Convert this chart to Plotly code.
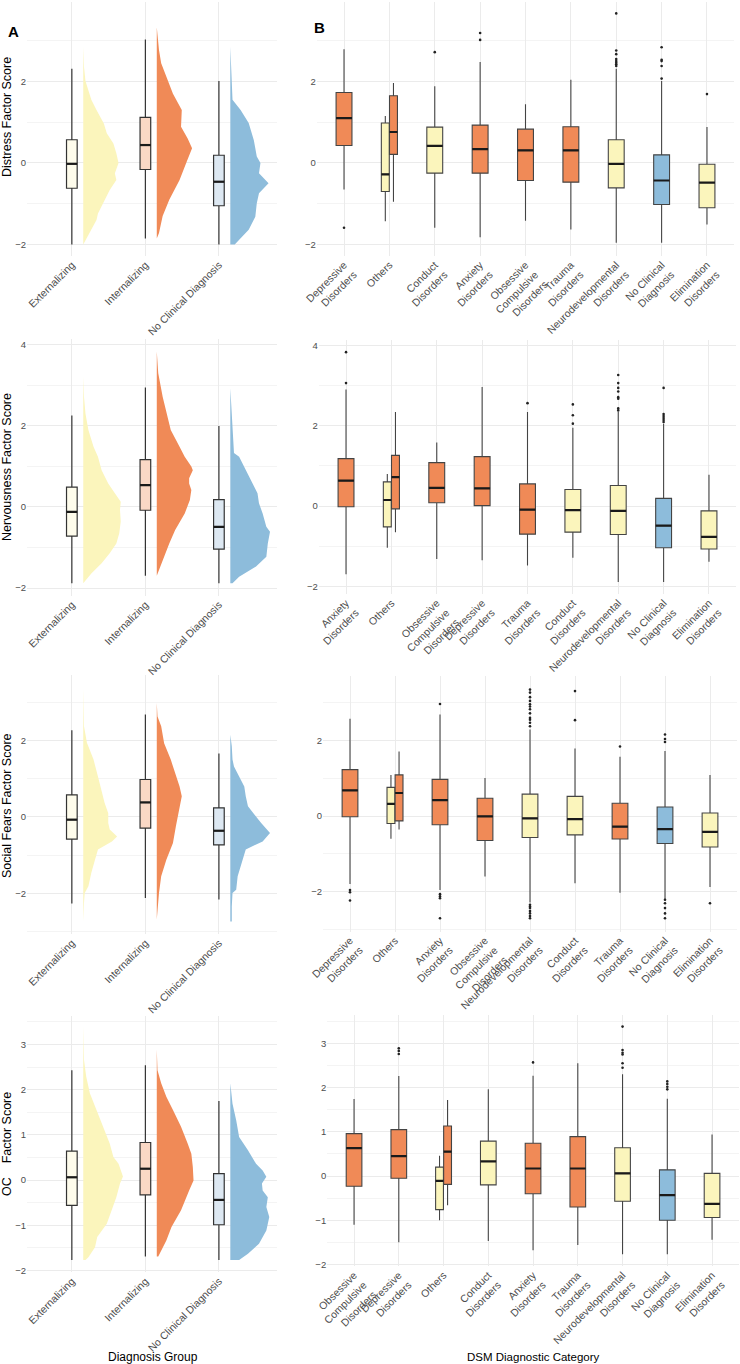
import plotly.graph_objects as go

# ---------------- DATA ----------------
groups = ["Externalizing", "Internalizing", "No Clinical Diagnosis"]

# box stats per group: (lower whisker, q1, median, q3, upper whisker)
distress_group_box = [(-2.00, -0.62, -0.02, 0.57, 2.31), (-1.85, -0.16, 0.44, 1.12, 3.03), (-2.00, -1.05, -0.46, 0.19, 2.01)]
nervous_group_box = [(-1.88, -0.72, -0.12, 0.49, 2.26), (-1.70, -0.08, 0.54, 1.17, 2.95), (-1.88, -1.04, -0.49, 0.18, 2.00)]
social_group_box = [(-2.26, -0.58, -0.07, 0.58, 2.27), (-2.12, -0.29, 0.38, 0.98, 2.68), (-2.16, -0.73, -0.36, 0.24, 1.66)]
oc_group_box = [(-1.77, -0.56, 0.06, 0.64, 2.43), (-1.69, -0.33, 0.25, 0.83, 2.54), (-1.77, -0.99, -0.44, 0.14, 1.75)]

# half-violin density profiles (score level, relative width)
distress_ext_y = [2.85, 2.36, 2.01, 1.55, 1.30, 0.97, 0.73, 0.48, 0.24, 0.0, -0.25, -0.42, -0.66, -0.99, -1.24, -1.40, -1.64, -1.89, -2.0]
distress_ext_w = [0, 0.01, 0.03, 0.11, 0.18, 0.28, 0.32, 0.41, 0.45, 0.48, 0.43, 0.45, 0.36, 0.27, 0.20, 0.18, 0.11, 0.04, 0.01]
distress_int_y = [3.33, 2.77, 2.45, 2.0, 1.7, 1.3, 1.05, 0.89, 0.6, 0.36, 0.0, -0.42, -0.9, -1.3, -1.72, -1.85]
distress_int_w = [0, 0.03, 0.06, 0.15, 0.22, 0.34, 0.34, 0.33, 0.42, 0.48, 0.40, 0.31, 0.17, 0.08, 0.03, 0.0]
distress_ncd_y = [2.85, 2.36, 2.01, 1.55, 1.30, 0.98, 0.56, 0.16, 0.0, -0.25, -0.50, -0.74, -0.99, -1.32, -1.64, -1.89, -2.0]
distress_ncd_w = [0, 0.01, 0.02, 0.03, 0.14, 0.25, 0.32, 0.36, 0.41, 0.39, 0.52, 0.39, 0.36, 0.34, 0.25, 0.11, 0.06]

nervous_ext_y = [3.22, 2.72, 2.31, 1.90, 1.49, 1.24, 0.91, 0.58, 0.34, 0.13, -0.07, -0.36, -0.65, -0.90, -1.14, -1.39, -1.64, -1.88]
nervous_ext_w = [0, 0.01, 0.03, 0.07, 0.14, 0.20, 0.25, 0.34, 0.43, 0.51, 0.50, 0.51, 0.49, 0.45, 0.36, 0.25, 0.11, 0.0]
nervous_int_y = [3.84, 3.30, 2.72, 2.31, 1.90, 1.49, 1.24, 1.00, 0.91, 0.71, 0.58, 0.42, 0.17, -0.16, -0.57, -0.90, -1.31, -1.70]
nervous_int_w = [0, 0.02, 0.08, 0.13, 0.19, 0.31, 0.38, 0.47, 0.49, 0.44, 0.44, 0.47, 0.45, 0.38, 0.25, 0.17, 0.08, 0.0]
nervous_ncd_y = [2.93, 2.31, 1.90, 1.33, 1.24, 0.91, 0.58, 0.34, 0.09, -0.16, -0.49, -0.61, -0.90, -1.23, -1.47, -1.72, -1.88]
nervous_ncd_w = [0, 0.02, 0.03, 0.05, 0.12, 0.21, 0.30, 0.37, 0.39, 0.44, 0.49, 0.54, 0.51, 0.49, 0.35, 0.12, 0.03]

social_ext_y = [3.35, 2.37, 1.94, 1.50, 1.06, 0.63, 0.37, 0.10, -0.16, -0.33, -0.51, -0.64, -0.85, -1.12, -1.46, -1.81, -1.99, -2.25, -2.73]
social_ext_w = [0, 0.01, 0.05, 0.14, 0.20, 0.25, 0.29, 0.34, 0.34, 0.36, 0.46, 0.39, 0.20, 0.16, 0.11, 0.07, 0.02, 0.01, 0.0]
social_int_y = [2.98, 2.63, 2.37, 1.93, 1.50, 1.06, 0.80, 0.54, 0.28, 0.02, -0.24, -0.68, -1.12, -1.55, -1.99, -2.68]
social_int_w = [0, 0.01, 0.06, 0.10, 0.19, 0.26, 0.31, 0.34, 0.31, 0.28, 0.26, 0.22, 0.13, 0.06, 0.03, 0.0]
social_ncd_y = [2.15, 1.85, 1.50, 1.32, 1.06, 0.80, 0.54, 0.28, 0.06, -0.16, -0.42, -0.64, -0.85, -1.20, -1.55, -1.90, -1.99, -2.34, -2.73]
social_ncd_w = [0, 0.02, 0.03, 0.05, 0.12, 0.19, 0.21, 0.24, 0.33, 0.42, 0.54, 0.44, 0.21, 0.15, 0.10, 0.08, 0.03, 0.02, 0.02]

oc_ext_y = [3.40, 2.66, 2.29, 1.92, 1.55, 1.18, 0.81, 0.51, 0.36, 0.08, -0.08, -0.38, -0.67, -0.97, -1.26, -1.49, -1.71, -1.77]
oc_ext_w = [0, 0.01, 0.04, 0.09, 0.18, 0.27, 0.36, 0.41, 0.48, 0.54, 0.50, 0.45, 0.39, 0.32, 0.19, 0.16, 0.07, 0.03]
oc_int_y = [2.89, 2.43, 2.14, 1.84, 1.55, 1.18, 0.81, 0.58, 0.29, -0.01, -0.23, -0.67, -1.04, -1.34, -1.69]
oc_int_w = [0, 0.01, 0.06, 0.13, 0.22, 0.33, 0.42, 0.47, 0.49, 0.50, 0.44, 0.33, 0.20, 0.13, 0.02]
oc_ncd_y = [2.14, 1.69, 1.32, 0.95, 0.66, 0.36, 0.21, 0.07, -0.08, -0.23, -0.38, -0.60, -0.82, -1.12, -1.41, -1.63, -1.77]
oc_ncd_w = [0, 0.03, 0.08, 0.12, 0.24, 0.35, 0.44, 0.49, 0.43, 0.44, 0.51, 0.49, 0.53, 0.49, 0.39, 0.24, 0.12]

# DSM categories: order per panel, boxes (category, group, lower, q1, median, q3, upper), outliers
distress_dsm_order = ["Depressive Disorders", "Others", "Conduct Disorders", "Anxiety Disorders",
                      "Obsessive Compulsive Disorders", "Trauma Disorders", "Neurodevelopmental Disorders",
                      "No Clinical Diagnosis", "Elimination Disorders"]
distress_dsm_boxes = [
    ("Depressive Disorders", "Internalizing", -0.65, 0.43, 1.10, 1.73, 2.79),
    ("Others", "Externalizing", -1.43, -0.70, -0.28, 0.98, 1.15),
    ("Others", "Internalizing", -0.95, 0.21, 0.76, 1.65, 1.96),
    ("Conduct Disorders", "Externalizing", -1.59, -0.25, 0.42, 0.88, 1.88),
    ("Anxiety Disorders", "Internalizing", -1.82, -0.25, 0.34, 0.93, 2.48),
    ("Obsessive Compulsive Disorders", "Internalizing", -1.42, -0.43, 0.31, 0.83, 1.44),
    ("Trauma Disorders", "Internalizing", -1.63, -0.47, 0.31, 0.89, 2.04),
    ("Neurodevelopmental Disorders", "Externalizing", -1.96, -0.61, -0.02, 0.57, 2.31),
    ("No Clinical Diagnosis", "No Clinical Diagnosis", -1.96, -1.02, -0.43, 0.20, 2.01),
    ("Elimination Disorders", "Externalizing", -1.51, -1.10, -0.48, -0.03, 0.88),
]
distress_dsm_outliers = {
    "Depressive Disorders": [-1.59],
    "Conduct Disorders": [2.72],
    "Anxiety Disorders": [3.19, 3.02],
    "Neurodevelopmental Disorders": [3.67, 2.76, 2.67, 2.55, 2.50, 2.46, 2.42, 2.38],
    "No Clinical Diagnosis": [2.84, 2.53, 2.50, 2.38, 2.07],
    "Elimination Disorders": [1.69],
}

nervous_dsm_order = ["Anxiety Disorders", "Others", "Obsessive Compulsive Disorders", "Depressive Disorders",
                     "Trauma Disorders", "Conduct Disorders", "Neurodevelopmental Disorders",
                     "No Clinical Diagnosis", "Elimination Disorders"]
nervous_dsm_boxes = [
    ("Anxiety Disorders", "Internalizing", -1.70, -0.02, 0.63, 1.18, 2.90),
    ("Others", "Externalizing", -1.04, -0.52, 0.15, 0.60, 0.80),
    ("Others", "Internalizing", -0.65, -0.07, 0.72, 1.26, 2.34),
    ("Obsessive Compulsive Disorders", "Internalizing", -1.32, 0.08, 0.45, 1.08, 1.58),
    ("Depressive Disorders", "Internalizing", -1.35, 0.01, 0.44, 1.23, 2.96),
    ("Trauma Disorders", "Internalizing", -1.48, -0.70, -0.09, 0.55, 2.34),
    ("Conduct Disorders", "Externalizing", -1.29, -0.65, -0.10, 0.41, 1.95),
    ("Neurodevelopmental Disorders", "Externalizing", -1.89, -0.71, -0.12, 0.51, 2.34),
    ("No Clinical Diagnosis", "No Clinical Diagnosis", -1.89, -1.04, -0.49, 0.19, 2.05),
    ("Elimination Disorders", "Externalizing", -1.39, -1.07, -0.77, -0.12, 0.78),
]
nervous_dsm_outliers = {
    "Anxiety Disorders": [3.83, 3.06],
    "Trauma Disorders": [2.56],
    "Conduct Disorders": [2.53, 2.26, 2.05],
    "Neurodevelopmental Disorders": [3.26, 3.06, 2.94, 2.85, 2.71, 2.67, 2.43, 2.38],
    "No Clinical Diagnosis": [2.94, 2.29, 2.24, 2.19, 2.14, 2.09],
}

social_dsm_order = ["Depressive Disorders", "Others", "Anxiety Disorders", "Obsessive Compulsive Disorders",
                    "Neurodevelopmental Disorders", "Conduct Disorders", "Trauma Disorders",
                    "No Clinical Diagnosis", "Elimination Disorders"]
social_dsm_boxes = [
    ("Depressive Disorders", "Internalizing", -1.80, -0.02, 0.68, 1.23, 2.58),
    ("Others", "Externalizing", -0.60, -0.20, 0.32, 0.76, 1.09),
    ("Others", "Internalizing", -0.36, -0.13, 0.61, 1.09, 1.71),
    ("Anxiety Disorders", "Internalizing", -1.96, -0.23, 0.42, 0.97, 2.69),
    ("Obsessive Compulsive Disorders", "Internalizing", -1.60, -0.65, -0.01, 0.47, 1.01),
    ("Neurodevelopmental Disorders", "Externalizing", -2.29, -0.57, -0.06, 0.58, 2.29),
    ("Conduct Disorders", "Externalizing", -1.78, -0.50, -0.08, 0.52, 1.79),
    ("Trauma Disorders", "Internalizing", -2.03, -0.61, -0.28, 0.34, 1.57),
    ("No Clinical Diagnosis", "No Clinical Diagnosis", -2.20, -0.73, -0.35, 0.24, 1.72),
    ("Elimination Disorders", "Externalizing", -1.88, -0.82, -0.42, 0.08, 1.09),
]
social_dsm_outliers = {
    "Depressive Disorders": [-1.96, -2.02, -2.24],
    "Anxiety Disorders": [2.97, -2.07, -2.13, -2.18, -2.71],
    "Neurodevelopmental Disorders": [3.35, 3.27, 3.15, 3.05, 2.96, 2.90, 2.83, 2.72, 2.60, 2.55, 2.47, 2.38,
                                     -2.35, -2.40, -2.44, -2.52, -2.58, -2.65, -2.71],
    "Conduct Disorders": [3.31, 2.54],
    "Trauma Disorders": [1.84],
    "No Clinical Diagnosis": [2.16, 2.04, 1.96, -2.22, -2.31, -2.44, -2.58, -2.71],
    "Elimination Disorders": [-2.31],
}

oc_dsm_order = ["Obsessive Compulsive Disorders", "Depressive Disorders", "Others", "Conduct Disorders",
                "Anxiety Disorders", "Trauma Disorders", "Neurodevelopmental Disorders",
                "No Clinical Diagnosis", "Elimination Disorders"]
oc_dsm_boxes = [
    ("Obsessive Compulsive Disorders", "Internalizing", -1.10, -0.23, 0.63, 0.96, 1.74),
    ("Depressive Disorders", "Internalizing", -1.50, -0.05, 0.45, 1.05, 2.26),
    ("Others", "Externalizing", -1.00, -0.76, -0.11, 0.20, 0.46),
    ("Others", "Internalizing", -0.66, -0.19, 0.55, 1.13, 1.72),
    ("Conduct Disorders", "Externalizing", -1.47, -0.20, 0.33, 0.79, 1.96),
    ("Anxiety Disorders", "Internalizing", -1.68, -0.40, 0.17, 0.74, 2.27),
    ("Trauma Disorders", "Internalizing", -1.56, -0.70, 0.17, 0.89, 2.55),
    ("Neurodevelopmental Disorders", "Externalizing", -1.77, -0.57, 0.06, 0.64, 2.30),
    ("No Clinical Diagnosis", "No Clinical Diagnosis", -1.77, -1.00, -0.43, 0.14, 1.75),
    ("Elimination Disorders", "Externalizing", -1.44, -0.94, -0.63, 0.06, 0.94),
]
oc_dsm_outliers = {
    "Depressive Disorders": [2.89, 2.83, 2.76],
    "Anxiety Disorders": [2.57],
    "Neurodevelopmental Disorders": [3.38, 2.85, 2.79, 2.75, 2.55, 2.45],
    "No Clinical Diagnosis": [2.14, 2.08, 2.02, 1.96],
}

dsm_labels = {
    "Depressive Disorders": "Depressive<br>Disorders",
    "Others": "Others",
    "Conduct Disorders": "Conduct<br>Disorders",
    "Anxiety Disorders": "Anxiety<br>Disorders",
    "Obsessive Compulsive Disorders": "Obsessive<br>Compulsive<br>Disorders",
    "Trauma Disorders": "Trauma<br>Disorders",
    "Neurodevelopmental Disorders": "Neurodevelopmental<br>Disorders",
    "No Clinical Diagnosis": "No Clinical<br>Diagnosis",
    "Elimination Disorders": "Elimination<br>Disorders",
}

factor_titles = ["Distress Factor Score", "Nervousness Factor Score", "Social Fears Factor Score",
                 "OC\u00a0\u00a0\u00a0 Factor Score"]

# ---------------- STYLE / LAYOUT ----------------
W, H = 740, 1364
FONT = "Liberation Sans, Arial, Helvetica, sans-serif"
VIOLIN_COL = {"Externalizing": "#FBF5BC", "Internalizing": "#F08A57", "No Clinical Diagnosis": "#8DBCDB"}
LEFTBOX_COL = {"Externalizing": "#FEFCEC", "Internalizing": "#FAD8C5", "No Clinical Diagnosis": "#DDE8F2"}
GRID = "#EBEBEB"
MINOR = "#F4F4F4"
TICKCOL = "#4D4D4D"

# pixel boxes: (left, right, top, bottom), x range, y range, y dtick, minor dtick
panels = [
    ((27, 277, 2.0, 255.9), [0.39, 3.79], [-2.28, 3.95], 2, 1),
    ((316.8, 734.2, 2.0, 255.9), [0.4, 9.6], [-2.28, 3.95], 2, 1),
    ((27, 277, 339.3, 595.7), [0.39, 3.79], [-2.19, 4.14], 2, 1),
    ((318.8, 736.2, 339.7, 594.0), [0.4, 9.6], [-2.19, 4.14], 2, 1),
    ((27, 277, 675.1, 934.0), [0.39, 3.79], [-3.06, 3.71], 2, 1),
    ((323, 737, 676, 931.5), [0.4, 9.6], [-3.06, 3.71], 2, 1),
    ((27, 277, 1015.5, 1272.2), [0.39, 3.79], [-2.04, 3.64], 1, 0.5),
    ((327.2, 738.9, 1015.1, 1266.2), [0.4, 9.6], [-2.04, 3.64], 1, 0.5),
]
title_y_px = [117, 467, 806, 1144]

group_boxes = [distress_group_box, nervous_group_box, social_group_box, oc_group_box]
violins = [
    [(distress_ext_y, distress_ext_w), (distress_int_y, distress_int_w), (distress_ncd_y, distress_ncd_w)],
    [(nervous_ext_y, nervous_ext_w), (nervous_int_y, nervous_int_w), (nervous_ncd_y, nervous_ncd_w)],
    [(social_ext_y, social_ext_w), (social_int_y, social_int_w), (social_ncd_y, social_ncd_w)],
    [(oc_ext_y, oc_ext_w), (oc_int_y, oc_int_w), (oc_ncd_y, oc_ncd_w)],
]
dsm_sets = [
    (distress_dsm_order, distress_dsm_boxes, distress_dsm_outliers),
    (nervous_dsm_order, nervous_dsm_boxes, nervous_dsm_outliers),
    (social_dsm_order, social_dsm_boxes, social_dsm_outliers),
    (oc_dsm_order, oc_dsm_boxes, oc_dsm_outliers),
]

fig = go.Figure()


def axnames(k):
    s = "" if k == 0 else str(k + 1)
    return "x" + s, "y" + s


def add_box(k, pos, stats, width, fill, lcol, lw, medcol="#1a1a1a", medw=2.2):
    xa, ya = axnames(k)
    lo, q1, med, q3, hi = stats
    fig.add_trace(go.Box(x=[pos], lowerfence=[lo], q1=[q1], median=[med], q3=[q3], upperfence=[hi],
                         width=width, fillcolor=fill, line=dict(color=lcol, width=lw), whiskerwidth=0,
                         boxpoints=False, xaxis=xa, yaxis=ya, showlegend=False, hoverinfo="skip"))
    fig.add_trace(go.Scatter(x=[pos - width / 2, pos + width / 2], y=[med, med], mode="lines",
                             line=dict(color=medcol, width=medw), xaxis=xa, yaxis=ya,
                             showlegend=False, hoverinfo="skip"))


for r in range(4):
    # left: raincloud
    k = 2 * r
    xa, ya = axnames(k)
    for gi, g in enumerate(groups):
        pos = gi + 1
        yv, wv = violins[r][gi]
        base = pos + 0.155
        xs = [base + w for w in wv] + [base, base]
        ys = list(yv) + [yv[-1], yv[0]]
        fig.add_trace(go.Scatter(x=xs, y=ys, mode="lines", fill="toself", fillcolor=VIOLIN_COL[g],
                                 line=dict(width=0, color=VIOLIN_COL[g]), xaxis=xa, yaxis=ya,
                                 showlegend=False, hoverinfo="skip"))
        add_box(k, pos, group_boxes[r][gi], 0.145, LEFTBOX_COL[g], "#333333", 1.2)
    # right: DSM boxplots
    k = 2 * r + 1
    xa, ya = axnames(k)
    order, boxes, outl = dsm_sets[r]
    counts = {}
    for b in boxes:
        counts[b[0]] = counts.get(b[0], 0) + 1
    for b in boxes:
        cat, g = b[0], b[1]
        ci = order.index(cat) + 1
        if counts[cat] == 2:
            off = -0.09 if g == "Externalizing" else 0.09
            width = 0.175
        else:
            off, width = 0.0, 0.35
        add_box(k, ci + off, b[2:], width, VIOLIN_COL[g], "#444444", 1.1)
    ox, oy = [], []
    for cat, vals in outl.items():
        ci = order.index(cat) + 1
        for v in vals:
            ox.append(ci)
            oy.append(v)
    fig.add_trace(go.Scatter(x=ox, y=oy, mode="markers", marker=dict(size=2.6, color="#222222"),
                             xaxis=xa, yaxis=ya, showlegend=False, hoverinfo="skip"))

layout = dict(width=W, height=H, margin=dict(l=0, r=0, t=0, b=0, autoexpand=False), paper_bgcolor="white",
              plot_bgcolor="white", boxmode="overlay", font=dict(family=FONT, color=TICKCOL),
              showlegend=False, template="none")

for k, (px, xr, yr, dt, mdt) in enumerate(panels):
    l, rr, t, b = px
    s = "" if k == 0 else str(k + 1)
    left_col = (k % 2 == 0)
    r = k // 2
    if left_col:
        tv = [1, 2, 3]
        tt = groups
    else:
        order = dsm_sets[r][0]
        tv = list(range(1, len(order) + 1))
        tt = [dsm_labels[c] for c in order]
    layout["xaxis" + s] = dict(domain=[l / W, rr / W], range=xr, anchor="y" + s, tickvals=tv, ticktext=tt,
                               tickangle=-45, showgrid=True, gridcolor=GRID, gridwidth=1, zeroline=False,
                               showline=False, ticks="", tickfont=dict(size=10.5, color=TICKCOL, family=FONT),
                               fixedrange=True, automargin=False)
    layout["yaxis" + s] = dict(domain=[1 - b / H, 1 - t / H], range=yr, anchor="x" + s, tick0=0, dtick=dt,
                               showgrid=True, gridcolor=GRID, gridwidth=1, zeroline=False, showline=False,
                               ticks="", tickfont=dict(size=9.5, color=TICKCOL, family=FONT),
                               minor=dict(dtick=mdt, tick0=0, showgrid=True, gridcolor=MINOR, gridwidth=0.8),
                               fixedrange=True, automargin=False)

annotations = []
for r in range(4):
    annotations.append(dict(text=factor_titles[r], x=7 / W, y=1 - title_y_px[r] / H, xref="paper", yref="paper",
                            textangle=-90, showarrow=False, xanchor="center", yanchor="middle",
                            font=dict(size=12.5, color="black", family=FONT)))
annotations.append(dict(text="<b>A</b>", x=6 / W, y=1 - 32 / H, xref="paper", yref="paper", showarrow=False,
                        xanchor="left", yanchor="middle", font=dict(size=15, color="black", family=FONT)))
annotations.append(dict(text="<b>B</b>", x=312 / W, y=1 - 28 / H, xref="paper", yref="paper", showarrow=False,
                        xanchor="left", yanchor="middle", font=dict(size=15, color="black", family=FONT)))
annotations.append(dict(text="Diagnosis Group", x=153 / W, y=1 - 1357 / H, xref="paper", yref="paper",
                        showarrow=False, xanchor="center", yanchor="middle",
                        font=dict(size=12, color="black", family=FONT)))
annotations.append(dict(text="DSM Diagnostic Category", x=533 / W, y=1 - 1357 / H, xref="paper", yref="paper",
                        showarrow=False, xanchor="center", yanchor="middle",
                        font=dict(size=11.5, color="black", family=FONT)))
layout["annotations"] = annotations

fig.update_layout(**layout)
fig.write_html("out.html")
